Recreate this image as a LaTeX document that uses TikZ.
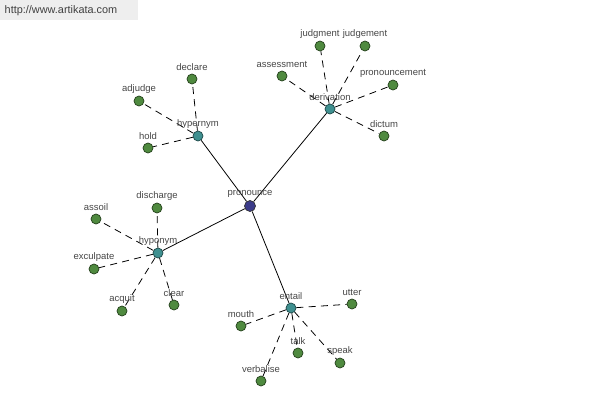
\documentclass[tikz,border=0pt]{standalone}
\usepackage{fontspec}
\setmainfont{Liberation Sans}
\usetikzlibrary{backgrounds}

\definecolor{leafgreen}{HTML}{4F8A3F}
\definecolor{leafline}{HTML}{24401C}
\definecolor{relteal}{HTML}{3F9090}
\definecolor{relline}{HTML}{1E4848}
\definecolor{rootblue}{HTML}{3C3C8A}
\definecolor{labelgrey}{HTML}{464646}
\definecolor{headergrey}{HTML}{EEEEEE}

\begin{document}
\begin{tikzpicture}[x=0.02cm, y=-0.02cm]
    % -----------------------------
    % Parameters (tweak as needed)
    % -----------------------------
    \def\dNode{0.2cm}      % diameter of a word dot
    \def\lw{0.45pt}        % line width of the links
    \def\lblFont{\fontsize{5.4pt}{6pt}\selectfont}

    % -----------------------------
    % Styles
    % -----------------------------
    \tikzset{
      dot/.style={circle, inner sep=0pt, minimum size=\dNode, line width=0.4pt},
      leaf/.style={dot, draw=leafline, fill=leafgreen},
      relation/.style={dot, draw=relline, fill=relteal},
      root/.style={dot, minimum size=0.22cm, draw=black!80, fill=rootblue},
      lbl/.style={font=\lblFont, text=labelgrey, inner sep=0.5pt, label distance=0.8pt},
      mainlink/.style={draw=black, line width=\lw},
      sublink/.style={draw=black, line width=\lw, dash pattern=on 4pt off 3pt},
    }

    % fixed page size, as in the reference
    \useasboundingbox (0,0) rectangle (600,400);

    % -----------------------------
    % Site banner
    % -----------------------------
    \fill[headergrey] (0,0) rectangle (138,20);
    \node[font=\fontsize{6.2pt}{7pt}\selectfont, text=black!75] (site) at (61,11) {http://www.artikata.com};

    % -----------------------------
    % Centre word and its relations
    % -----------------------------
    \node[root, label={[lbl]above:pronounce}] (pronounce) at (250,206) {};

    \node[relation, label={[lbl]above:hypernym}]   (hypernym)   at (198,136) {};
    \node[relation, label={[lbl]above:derivation}] (derivation) at (330,109) {};
    \node[relation, label={[lbl]above:hyponym}]    (hyponym)    at (158,253) {};
    \node[relation, label={[lbl]above:entail}]     (entail)     at (291,308) {};

    % -----------------------------
    % Words (hypernym)
    % -----------------------------
    \node[leaf, label={[lbl]above:declare}] (declare) at (192,79) {};
    \node[leaf, label={[lbl]above:adjudge}] (adjudge) at (139,101) {};
    \node[leaf, label={[lbl]above:hold}]    (hold)    at (148,148) {};

    % Words (derivation)
    \node[leaf, label={[lbl]above:judgment}]      (judgment)      at (320,46) {};
    \node[leaf, label={[lbl]above:judgement}]     (judgement)     at (365,46) {};
    \node[leaf, label={[lbl]above:assessment}]    (assessment)    at (282,76) {};
    \node[leaf, label={[lbl]above:pronouncement}] (pronouncement) at (393,85) {};
    \node[leaf, label={[lbl]above:dictum}]        (dictum)        at (384,136) {};

    % Words (hyponym)
    \node[leaf, label={[lbl]above:discharge}] (discharge) at (157,208) {};
    \node[leaf, label={[lbl]above:assoil}]    (assoil)    at (96,219) {};
    \node[leaf, label={[lbl]above:exculpate}] (exculpate) at (94,269) {};
    \node[leaf, label={[lbl]above:acquit}]    (acquit)    at (122,311) {};
    \node[leaf, label={[lbl]above:clear}]     (clear)     at (174,305) {};

    % Words (entail)
    \node[leaf, label={[lbl]above:utter}]     (utter)     at (352,304) {};
    \node[leaf, label={[lbl]above:mouth}]     (mouth)     at (241,326) {};
    \node[leaf, label={[lbl]above:talk}]      (talk)      at (298,353) {};
    \node[leaf, label={[lbl]above:speak}]     (speak)     at (340,363) {};
    \node[leaf, label={[lbl]above:verbalise}] (verbalise) at (261,381) {};

    % -----------------------------
    % Links, kept behind the dots and labels
    % -----------------------------
    \begin{scope}[on background layer]
      \draw[mainlink] (pronounce) -- (hypernym);
      \draw[mainlink] (pronounce) -- (derivation);
      \draw[mainlink] (pronounce) -- (hyponym);
      \draw[mainlink] (pronounce) -- (entail);

      \draw[sublink] (hypernym) -- (declare);
      \draw[sublink] (hypernym) -- (adjudge);
      \draw[sublink] (hypernym) -- (hold);

      \draw[sublink] (derivation) -- (judgment);
      \draw[sublink] (derivation) -- (judgement);
      \draw[sublink] (derivation) -- (assessment);
      \draw[sublink] (derivation) -- (pronouncement);
      \draw[sublink] (derivation) -- (dictum);

      \draw[sublink] (hyponym) -- (discharge);
      \draw[sublink] (hyponym) -- (assoil);
      \draw[sublink] (hyponym) -- (exculpate);
      \draw[sublink] (hyponym) -- (acquit);
      \draw[sublink] (hyponym) -- (clear);

      \draw[sublink] (entail) -- (utter);
      \draw[sublink] (entail) -- (mouth);
      \draw[sublink] (entail) -- (talk);
      \draw[sublink] (entail) -- (speak);
      \draw[sublink] (entail) -- (verbalise);
    \end{scope}

\end{tikzpicture}
\end{document}
